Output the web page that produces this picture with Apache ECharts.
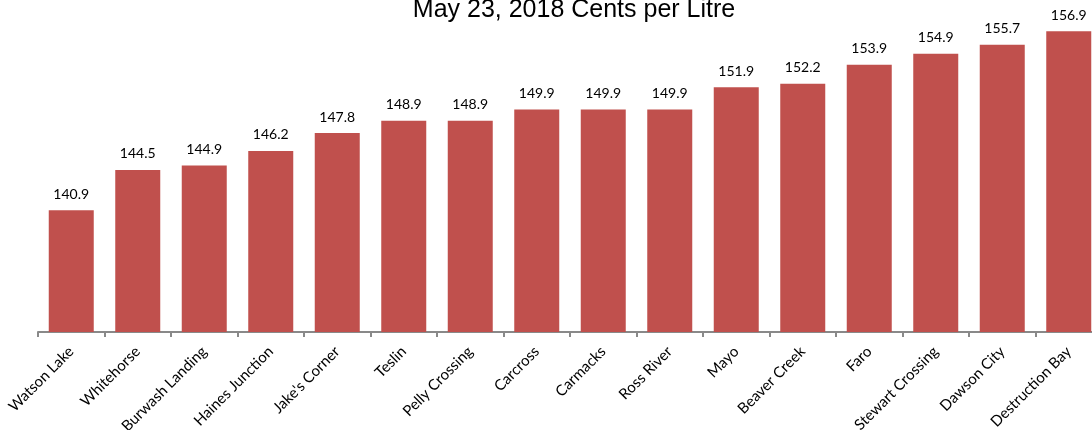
<!DOCTYPE html>
<html>
<head>
<meta charset="utf-8">
<script src="https://cdn.jsdelivr.net/npm/echarts@6/dist/echarts.min.js"></script>
<style>
html,body{margin:0;padding:0;background:#fff;overflow:hidden;}
#chart{width:1092px;height:430px;}
</style>
</head>
<body>
<div id="chart"></div>
<script>
const categories = ["Watson Lake","Whitehorse","Burwash Landing","Haines Junction","Jake's Corner","Teslin","Pelly Crossing","Carcross","Carmacks","Ross River","Mayo","Beaver Creek","Faro","Stewart Crossing","Dawson City","Destruction Bay"];
const prices = [140.9,144.5,144.9,146.2,147.8,148.9,148.9,149.9,149.9,149.9,151.9,152.2,153.9,154.9,155.7,156.9];
const titleText = "May 23, 2018 Cents per Litre";

const chart = echarts.init(document.getElementById('chart'));
chart.setOption({
  animation: false,
  title: {
    text: titleText,
    left: 569, top: -7, textAlign: 'center',
    textStyle: {fontFamily: 'Liberation Sans, Arial', fontSize: 25, fontWeight: 'normal', color: '#000'}
  },
  grid: {left: 38, width: 1064, top: 19, bottom: 98, containLabel: false, outerBoundsMode: 'none'},
  xAxis: {
    type: 'category',
    data: categories,
    axisLine: {lineStyle: {color: '#898989', width: 2}},
    axisTick: {show: true, length: 5, lineStyle: {color: '#898989', width: 2}},
    axisLabel: {rotate: 45, margin: 17, interval: 0, fontFamily: 'Lato, Open Sans, sans-serif', fontSize: 15, color: '#000'}
  },
  yAxis: {
    type: 'value', min: 130, max: 158, show: false,
    splitLine: {show: false}
  },
  series: [{
    type: 'bar',
    data: prices,
    barWidth: 45,
    itemStyle: {color: '#C0504D'},
    label: {show: true, position: 'top', distance: 9, fontFamily: 'Lato, Open Sans, sans-serif', fontSize: 14, color: '#000',
      formatter: p => p.value.toFixed(1)}
  }]
});
</script>
</body>
</html>
